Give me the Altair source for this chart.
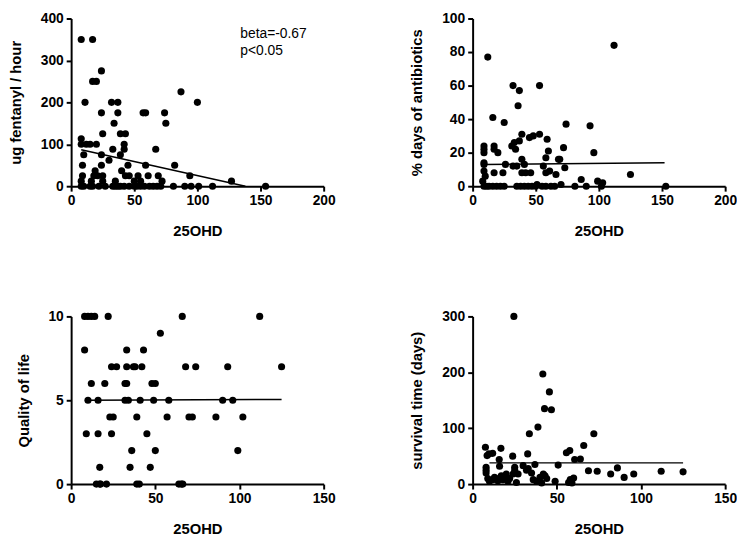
import altair as alt
import pandas as pd

# ---------------- data ----------------
# Panel 1: ug fentanyl / hour vs 25OHD
fent_x = [8, 17, 24, 17, 20, 11, 32, 37, 100, 87, 24, 37, 57, 59, 74, 34, 75, 25, 39, 43,
          8, 8, 12, 15, 20, 42, 10, 24, 39, 33, 42, 67, 30, 9, 24, 45, 59, 82,
          9, 18, 21, 25, 43, 46, 53, 61, 69, 94, 127, 8, 16, 25, 35, 50, 55, 72, 19, 40,
          8, 10, 15, 17, 22, 27, 33, 35, 37, 39, 42, 46, 50, 52, 55, 58, 62, 65, 68, 71,
          81, 90, 95, 101, 112, 154]
fent_y = [350, 350, 275, 250, 250, 200, 200, 200, 200, 225, 175, 175, 175, 175, 175, 150, 150, 125, 125, 125,
          113, 100, 100, 100, 100, 100, 75, 75, 75, 88, 88, 88, 62, 50, 50, 50, 50, 50,
          25, 25, 25, 25, 25, 25, 25, 25, 25, 25, 12, 12, 12, 12, 12, 12, 12, 12, 37, 37,
          0, 0, 0, 0, 0, 0, 0, 0, 0, 0, 0, 0, 0, 0, 0, 0, 0, 0, 0, 0,
          0, 0, 0, 0, 0, 0]
fent_line_x = [8, 138]
fent_line_y = [87, 0]
annot_x = [134, 134]
annot_y = [362, 322]
annot_text = ["beta=-0.67", "p<0.05"]

# Panel 2: % days of antibiotics vs 25OHD
abx_x = [12, 112, 32, 53, 37, 36, 16, 25, 74, 93, 39, 53, 48, 45, 59,
         9, 9, 9, 17, 17, 20, 31, 33, 37, 34, 72, 96, 60, 39, 58, 68, 69,
         9, 9, 26, 32, 35, 41, 56, 73, 9, 17, 24, 39, 42, 46, 58, 61, 66, 125,
         86, 99, 8, 10, 103, 70, 51,
         9, 11, 13, 16, 19, 22, 25, 35, 38, 41, 44, 47, 50, 55, 58, 62, 65, 81, 90, 102, 153]
abx_y = [77, 84, 60, 60, 57, 48, 41, 38, 37, 36, 31, 31, 30, 29, 28,
         24, 22, 20, 24, 22, 20, 24, 26, 27, 22, 23, 20, 21, 16, 17, 16, 16,
         14, 13, 13, 12, 12, 13, 12, 11, 9, 8, 8, 8, 8, 8, 8, 9, 7, 7,
         4, 3, 3, 6, 2, 1, 1,
         0, 0, 0, 0, 0, 0, 0, 0, 0, 0, 0, 0, 0, 0, 0, 0, 0, 0, 0, 0, 0]
abx_line_x = [10, 152]
abx_line_y = [12.9, 14]

# Panel 3: Quality of life vs 25OHD
qol_x = [8, 10, 12, 14, 22, 66, 112,
         53,
         8, 33, 43,
         24, 27, 33, 37, 38, 42, 68, 74, 93, 125,
         12, 20, 32, 33, 48, 50,
         10, 16, 32, 34, 41, 49, 58, 90, 96,
         23, 25, 39, 57, 70, 72, 86, 102,
         9, 16, 24, 45,
         36, 50, 99,
         17, 35, 47,
         15, 17, 17.5, 21, 39, 40.5, 64, 65.5, 66.3]
qol_y = [10, 10, 10, 10, 10, 10, 10,
         9,
         8, 8, 8,
         7, 7, 7, 7, 7, 7, 7, 7, 7, 7,
         6, 6, 6, 6, 6, 6,
         5, 5, 5, 5, 5, 5, 5, 5, 5,
         4, 4, 4, 4, 4, 4, 4, 4,
         3, 3, 3, 3,
         2, 2, 2,
         1, 1, 1,
         0, 0, 0, 0, 0, 0, 0, 0, 0]
qol_line_x = [9, 125]
qol_line_y = [5.0, 5.05]

# Panel 4: survival time (days) vs 25OHD
surv_x = [24.5, 41.7, 45.6, 42.7, 46.8, 38.8, 33.7, 72, 66, 7.6, 16.8, 55.7, 57.7, 32.7,
          64, 60.6, 8.6, 9.7, 11.9, 23.8, 15.8, 50.8, 68.8, 74, 82, 86, 90, 95.7, 112, 125,
          49, 58, 59, 60,
          8, 8, 8, 9, 10, 12, 13, 14, 15, 16, 17, 18, 19, 20, 21, 22, 24, 25, 25, 26,
          27, 30, 32, 33, 35, 36, 37, 38, 40, 41, 42, 43, 44, 57, 58]
surv_y = [300, 197, 165, 135, 133, 102, 90, 90, 69, 66, 64, 56, 60, 54,
          45, 44, 51, 54, 55, 50, 44, 34, 24, 23, 18, 29, 12, 18, 23, 22,
          5, 6, 2, 11,
          30, 25, 20, 10, 5, 8, 12, 10, 6, 32, 15, 8, 12, 18, 5, 10, 18, 25, 30, 3,
          18, 33, 25, 28, 20, 8, 35, 5, 12, 2, 18, 15, 10, 3, 8]
surv_line_x = [10, 125]
surv_line_y = [38, 38]

FONT = "Liberation Sans"
W, H = 256, 170


def panel(xs, ys, lx, ly, xmax, xvals, ymax, yvals, ytitle, annot=None):
    pts = pd.DataFrame({"x": xs, "y": ys})
    ln = pd.DataFrame({"x": lx, "y": ly})
    xs_ = alt.Scale(domain=[0, xmax], nice=False)
    ys_ = alt.Scale(domain=[0, ymax], nice=False)
    xax = alt.Axis(values=xvals, title="25OHD", titlePadding=16, labelOverlap=False,
                   labelFlush=False)
    yax = alt.Axis(values=yvals, title=ytitle, titlePadding=17, labelOverlap=False,
                   labelFlush=False)
    base_pts = alt.Chart(pts).mark_circle(size=52, color="black", opacity=1).encode(
        x=alt.X("x:Q", scale=xs_, axis=xax),
        y=alt.Y("y:Q", scale=ys_, axis=yax),
    )
    base_ln = alt.Chart(ln).mark_line(color="black", strokeWidth=1.5).encode(
        x=alt.X("x:Q", scale=xs_, axis=xax),
        y=alt.Y("y:Q", scale=ys_, axis=yax),
    )
    layers = [base_pts, base_ln]
    if annot is not None:
        adf = pd.DataFrame({"x": annot[0], "y": annot[1], "t": annot[2]})
        txt = alt.Chart(adf).mark_text(align="left", baseline="middle", font=FONT,
                                       fontSize=14, color="black").encode(
            x=alt.X("x:Q", scale=xs_, axis=xax), y=alt.Y("y:Q", scale=ys_, axis=yax),
            text="t:N")
        layers.append(txt)
    return alt.layer(*layers).properties(width=W, height=H)


p1 = panel(fent_x, fent_y, fent_line_x, fent_line_y, 200, [0, 50, 100, 150, 200],
           400, [0, 100, 200, 300, 400], "ug fentanyl / hour",
           annot=(annot_x, annot_y, annot_text))
p2 = panel(abx_x, abx_y, abx_line_x, abx_line_y, 200, [0, 50, 100, 150, 200],
           100, [0, 20, 40, 60, 80, 100], "% days of antibiotics")
p3 = panel(qol_x, qol_y, qol_line_x, qol_line_y, 150, [0, 50, 100, 150],
           10, [0, 5, 10], "Quality of life")
p4 = panel(surv_x, surv_y, surv_line_x, surv_line_y, 150, [0, 50, 100, 150],
           300, [0, 100, 200, 300], "survival time (days)")

chart = alt.vconcat(
    alt.hconcat(p1, p2, spacing=75),
    alt.hconcat(p3, p4, spacing=75),
    spacing=72,
).properties(padding=0).configure_view(stroke=None).configure_axis(
    grid=False,
    domainColor="black", domainWidth=2,
    tickColor="black", tickWidth=2, tickSize=5,
    labelFont=FONT, labelFontWeight="bold", labelFontSize=14, labelColor="black",
    titleFont=FONT, titleFontWeight="bold", titleFontSize=15, titleColor="black",
    labelPadding=3, labelOverlap=False, labelFlush=False,
)

chart.save("out.html", embed_options={"renderer": "svg", "actions": False})
